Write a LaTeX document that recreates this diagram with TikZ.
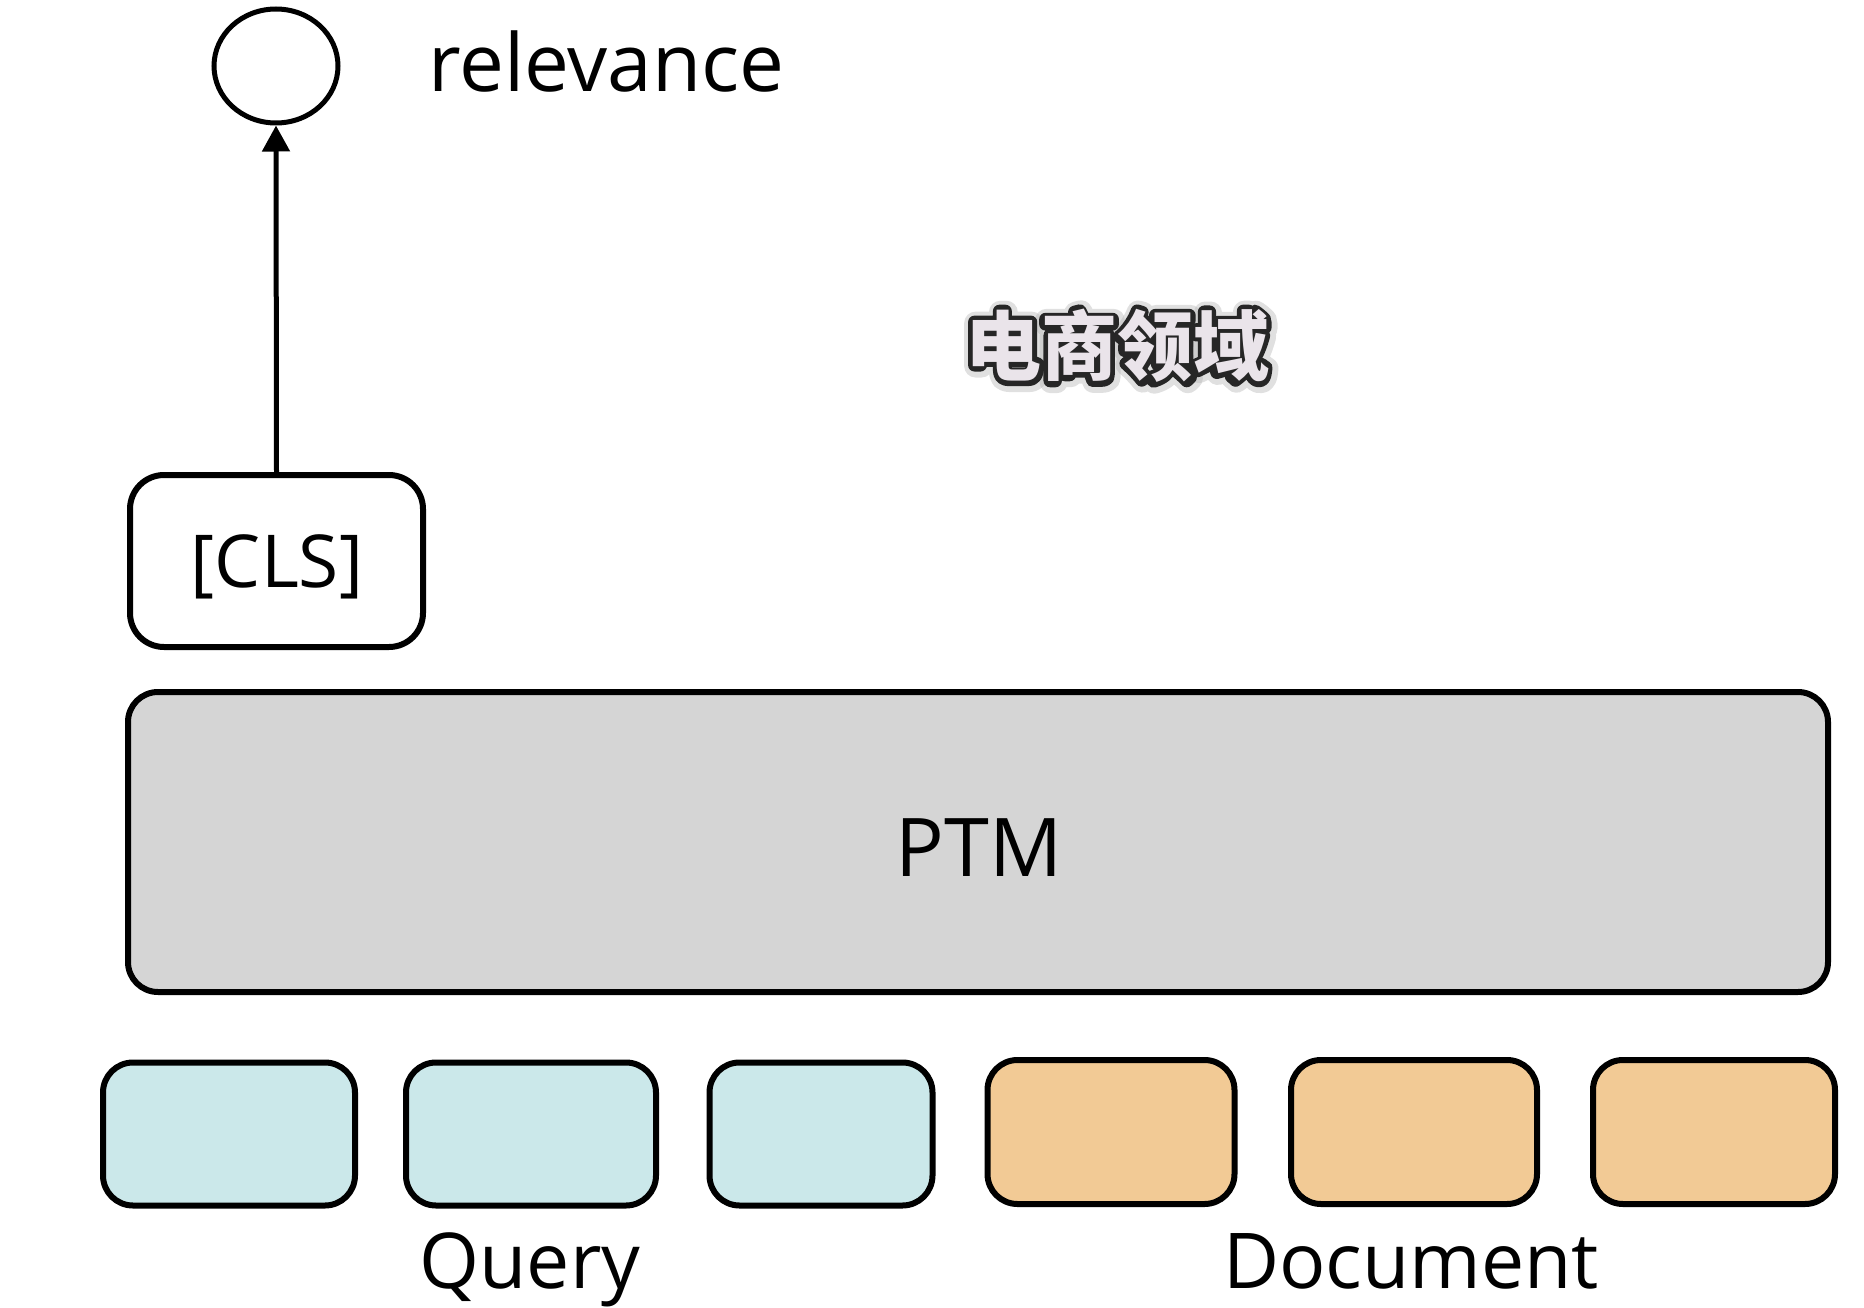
\documentclass[tikz,border=0pt]{standalone}
\usepackage{fontspec}
\setmainfont{Open Sans}
\newfontfamily\cjk{Noto Sans CJK SC}
\newfontfamily\cjkout{Noto Sans CJK SC}[FakeBold=17]
\newfontfamily\cjkshadow{Noto Sans CJK SC}[FakeBold=30]
\usetikzlibrary{arrows.meta,shapes.geometric,calc}
\definecolor{qfill}{HTML}{CBE8EA}
\definecolor{dfill}{HTML}{F2CA95}
\definecolor{pfill}{HTML}{D5D5D5}
\definecolor{cnfill}{HTML}{EAE4EA}
\definecolor{cnline}{HTML}{262626}
\tikzset{
  tok/.style={draw=black, line width=6pt, rounded corners=30pt, inner sep=0pt},
  lbl/.style={inner sep=0pt, font=\fontsize{77}{90}\selectfont},
  cnsize/.style={inner sep=0pt, line join=round},
}
\newcommand{\cnsz}{\fontsize{76}{80}\selectfont}
\begin{document}
\begin{tikzpicture}[x=1pt,y=-1pt]
\useasboundingbox (0,0) rectangle (1864,1308);
% output circle
\node[draw, line width=5pt, ellipse, minimum width=124pt, minimum height=114pt, inner sep=0pt] (rel) at (276,66) {};
\node[lbl, anchor=base west, font=\fontsize{80}{90}\selectfont] (reltxt) at (428,92) {relevance};
% CLS
\node[tok, fill=white, minimum width=293pt, minimum height=172pt, rounded corners=34pt] (cls) at (276.5,561) {};
\node[lbl, anchor=base, font=\fontsize{73}{90}\selectfont] (clstxt) at (277,587) {[CLS]};
\draw[line width=5pt, -{Triangle[length=26pt,width=27pt]}] (cls.north) -- (rel.south);
% PTM
\node[tok, fill=pfill, minimum width=1700pt, minimum height=300pt] (ptm) at (978,842) {};
\node[lbl, anchor=base, font=\fontsize{81}{90}\selectfont] (ptmtxt) at (979,876) {PTM};
% tokens
\node[tok, fill=qfill, minimum width=252pt, minimum height=143pt] (q1) at (229,1134) {};
\node[tok, fill=qfill, minimum width=250pt, minimum height=143pt] (q2) at (531,1134) {};
\node[tok, fill=qfill, minimum width=223pt, minimum height=143pt] (q3) at (821,1134) {};
\node[tok, fill=dfill, minimum width=247pt, minimum height=144pt] (d1) at (1111,1132) {};
\node[tok, fill=dfill, minimum width=246pt, minimum height=144pt] (d2) at (1414,1132) {};
\node[tok, fill=dfill, minimum width=242pt, minimum height=144pt] (d3) at (1714,1132) {};
\node[lbl, anchor=base] (querylbl) at (530,1288) {Query};
\node[lbl, anchor=base] (doclbl) at (1411,1288) {Document};
% outlined Chinese text
\node[cnsize, font=\cjkshadow\cnsz, text=black!30, opacity=0.4] (cnshadow) at (1118,347) {电商领域};
\node[cnsize, font=\cjkout\cnsz, text=cnline] (cnoutline) at (1117,346) {电商领域};
\node[cnsize, font=\cjk\bfseries\cnsz, text=cnfill] (cn) at (1117,346) {电商领域};
\end{tikzpicture}
\end{document}
